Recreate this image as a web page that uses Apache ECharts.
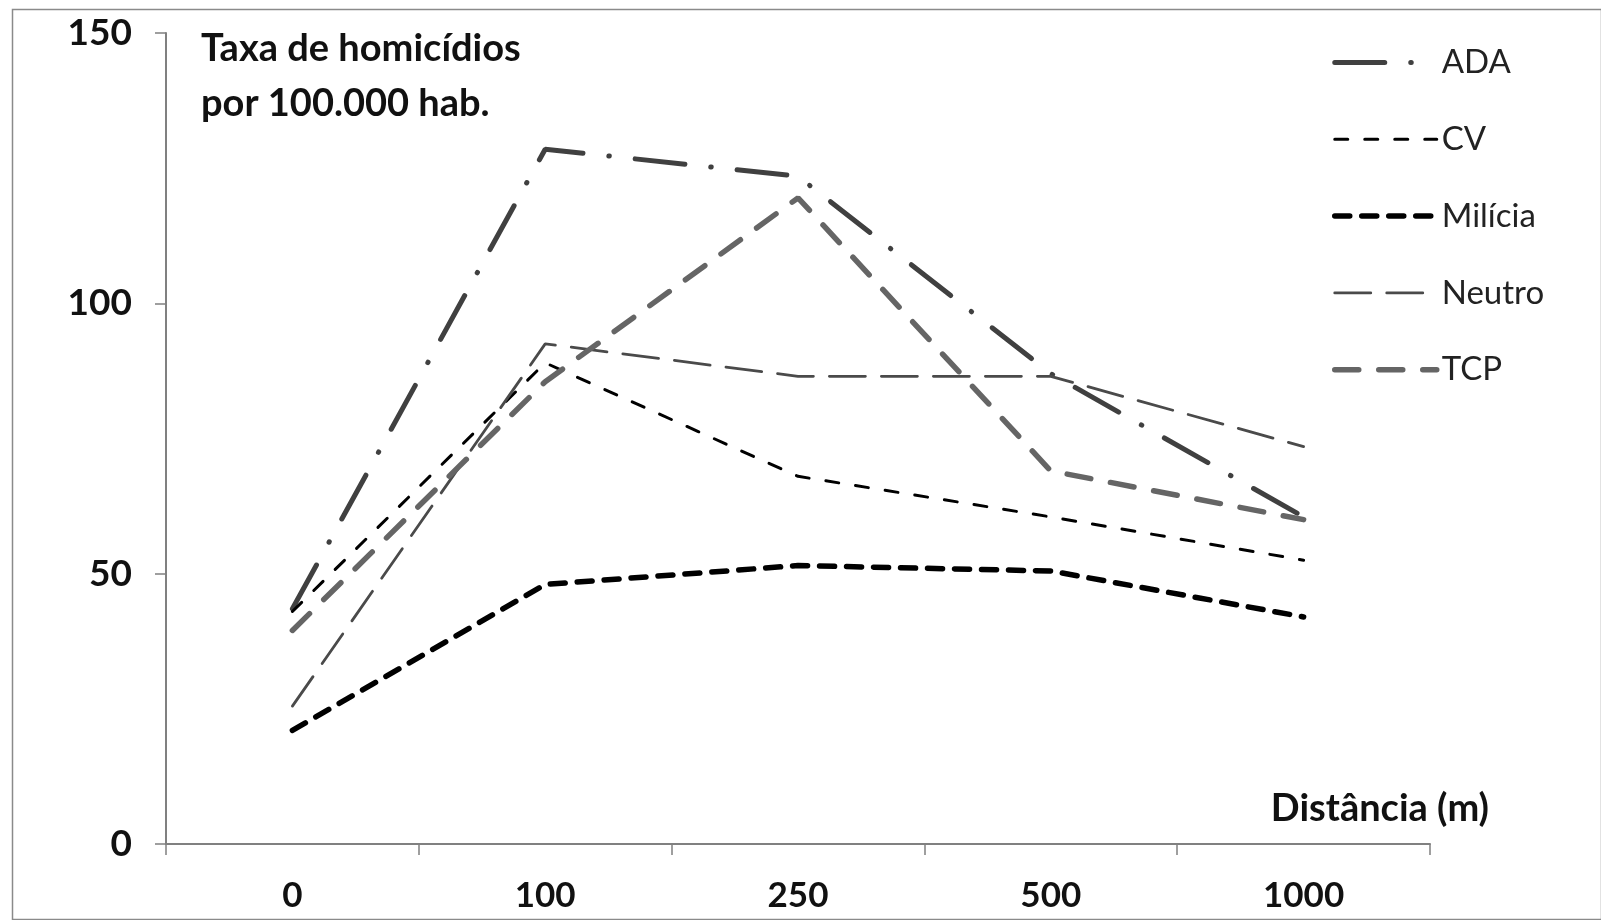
<!DOCTYPE html>
<html>
<head>
<meta charset="utf-8">
<script src="https://cdn.jsdelivr.net/npm/echarts@6/dist/echarts.min.js"></script>
<style>
html,body{margin:0;padding:0;background:#fff;}
#chart{width:1601px;height:920px;}
</style>
</head>
<body>
<div id="chart"></div>
<script>
const categories = ['0', '100', '250', '500', '1000'];
const ADA = [43.5, 128.5, 123.5, 87, 60.5];
const CV = [43, 89, 68, 60.5, 52.5];
const Milicia = [21, 48, 51.5, 50.5, 42];
const Neutro = [25.5, 92.5, 86.5, 86.5, 73.5];
const TCP = [39.5, 85.5, 119.5, 69, 60];
const yTicks = [0, 50, 100, 150];

const FONT = 'Lato';
const chart = echarts.init(document.getElementById('chart'));

function mkSeries(name, data, color, width, type, cap) {
  return {
    name: name, type: 'line', data: data, symbol: 'none', smooth: false,
    lineStyle: { color: color, width: width, type: type, cap: cap || 'round' },
    itemStyle: { color: color },
    emphasis: { disabled: true }, silent: true, animation: false
  };
}

chart.setOption({
  animation: false,
  backgroundColor: '#fff',
  grid: { left: 166, right: 171, top: 33, bottom: 76, containLabel: false },
  title: {
    text: 'Taxa de homicídios\npor 100.000 hab.',
    left: 196, top: 16,
    textStyle: { fontFamily: FONT, fontWeight: 'bold', fontSize: 38, color: '#111', lineHeight: 55 }
  },
  legend: {
    orient: 'vertical', left: 1327, top: 41,
    itemWidth: 102, itemHeight: 14, itemGap: 43.8,
    selectedMode: false,
    itemStyle: { opacity: 0 },
    lineStyle: { width: 'inherit' },
    textStyle: { fontFamily: FONT, fontSize: 33, color: '#222' },
    data: ['ADA', 'CV', 'Milícia', 'Neutro', 'TCP']
  },
  graphic: [
    { type: 'rect', left: 10, top: 7, shape: { width: 1589, height: 910 },
      style: { fill: 'none', stroke: '#8a8a8a', lineWidth: 1.5 }, silent: true },
    { type: 'text', right: 112, top: 790,
      style: { text: 'Distância (m)', font: 'bold 38px ' + FONT, fill: '#111' }, silent: true }
  ],
  xAxis: {
    type: 'category', data: categories, boundaryGap: true,
    axisLine: { lineStyle: { color: '#808080', width: 2 } },
    axisTick: { show: true, length: 11, lineStyle: { color: '#808080', width: 1.5 } },
    axisLabel: { fontFamily: FONT, fontWeight: 'bold', fontSize: 35, color: '#111', margin: 34 },
    splitLine: { show: false }
  },
  yAxis: {
    type: 'value', min: 0, max: 150, interval: 50,
    axisLine: { show: true, lineStyle: { color: '#808080', width: 2 } },
    axisTick: { show: true, length: 11, lineStyle: { color: '#808080', width: 1.5 } },
    axisLabel: { fontFamily: FONT, fontWeight: 'bold', fontSize: 37, color: '#111', margin: 34,
      formatter: function (v) { return yTicks.indexOf(v) >= 0 ? String(v) : ''; } },
    splitLine: { show: false }
  },
  series: [
    mkSeries('ADA', ADA, '#404040', 5, [50, 26, 0.5, 26]),
    mkSeries('CV', CV, '#000000', 3, [13, 17]),
    mkSeries('Milícia', Milicia, '#000000', 5.5, [15, 12]),
    mkSeries('Neutro', Neutro, '#4a4a4a', 2.8, [36, 16]),
    mkSeries('TCP', TCP, '#656565', 5.5, [24, 20])
  ]
});
</script>
</body>
</html>
